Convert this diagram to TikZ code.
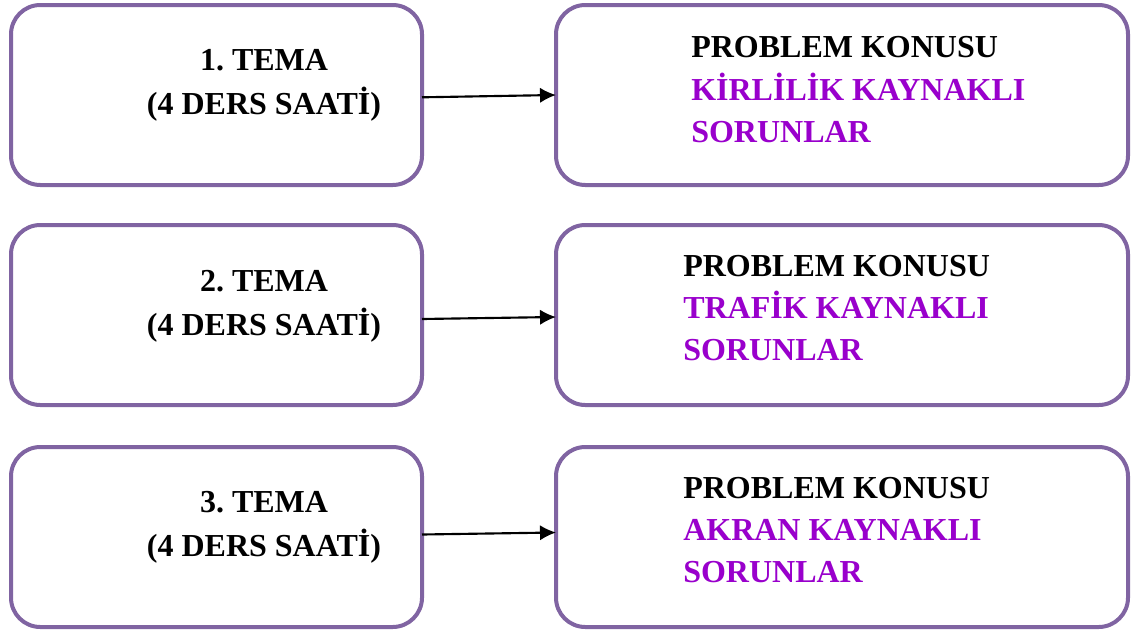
\documentclass[tikz,border=0pt]{standalone}
\usepackage{fontspec}
\setmainfont{Liberation Serif}
\usetikzlibrary{arrows.meta}
\definecolor{boxpurple}{RGB}{128,100,162}
\definecolor{topicpurple}{RGB}{153,0,204}
\tikzset{
  box/.style={draw=boxpurple, line width=3pt, rounded corners=22pt, fill=white,
              inner sep=0pt, outer sep=0pt, anchor=north west},
  themebox/.style={box, minimum width=411*0.75pt, minimum height=180*0.75pt},
  probbox/.style={box, minimum width=572*0.75pt, minimum height=180*0.75pt},
  lbl/.style={font=\fontsize{24}{28}\selectfont\bfseries\frenchspacing, inner sep=0pt},
  topic/.style={lbl, text=topicpurple},
  link/.style={line width=1.6pt, -{Latex[length=12pt,width=11.5pt]}}
}
\begin{document}
\begin{tikzpicture}[x=0.75pt,y=-0.75pt]
\useasboundingbox (0,0) rectangle (1141,632);

% theme boxes (left) and problem boxes (right)
\node[themebox] (l1) at (11,5)   {};
\node[probbox]  (r1) at (556,5)  {};
\node[themebox] (l2) at (11,225) {};
\node[probbox]  (r2) at (556,225){};
\node[themebox] (l3) at (11,447) {};
\node[probbox]  (r3) at (556,447){};

% theme labels
\node[lbl, anchor=base] (t1a) at (264,70)  {1. TEMA};
\node[lbl, anchor=base] (t1b) at (264,114) {(4 DERS SAATİ)};
\node[lbl, anchor=base] (t2a) at (264,291) {2. TEMA};
\node[lbl, anchor=base] (t2b) at (264,335) {(4 DERS SAATİ)};
\node[lbl, anchor=base] (t3a) at (264,512) {3. TEMA};
\node[lbl, anchor=base] (t3b) at (264,556) {(4 DERS SAATİ)};

% problem topics
\node[lbl, anchor=base west]   (p1a) at (691,57)  {PROBLEM KONUSU};
\node[topic, anchor=base west] (p1b) at (691,100) {KİRLİLİK KAYNAKLI};
\node[topic, anchor=base west] (p1c) at (691,142) {SORUNLAR};
\node[lbl, anchor=base west]   (p2a) at (683,276) {PROBLEM KONUSU};
\node[topic, anchor=base west] (p2b) at (683,318) {TRAFİK KAYNAKLI};
\node[topic, anchor=base west] (p2c) at (683,360) {SORUNLAR};
\node[lbl, anchor=base west]   (p3a) at (683,498) {PROBLEM KONUSU};
\node[topic, anchor=base west] (p3b) at (683,540) {AKRAN KAYNAKLI};
\node[topic, anchor=base west] (p3c) at (683,582) {SORUNLAR};

% connectors, each sloping slightly upwards
\draw[link] ([yshift=-2.3*0.75pt]l1.east) -- (r1.west);
\draw[link] ([yshift=-4*0.75pt]l2.east) -- ([yshift=-2*0.75pt]r2.west);
\draw[link] ([yshift=2.5*0.75pt]l3.east) -- ([yshift=4.5*0.75pt]r3.west);
\end{tikzpicture}
\end{document}
